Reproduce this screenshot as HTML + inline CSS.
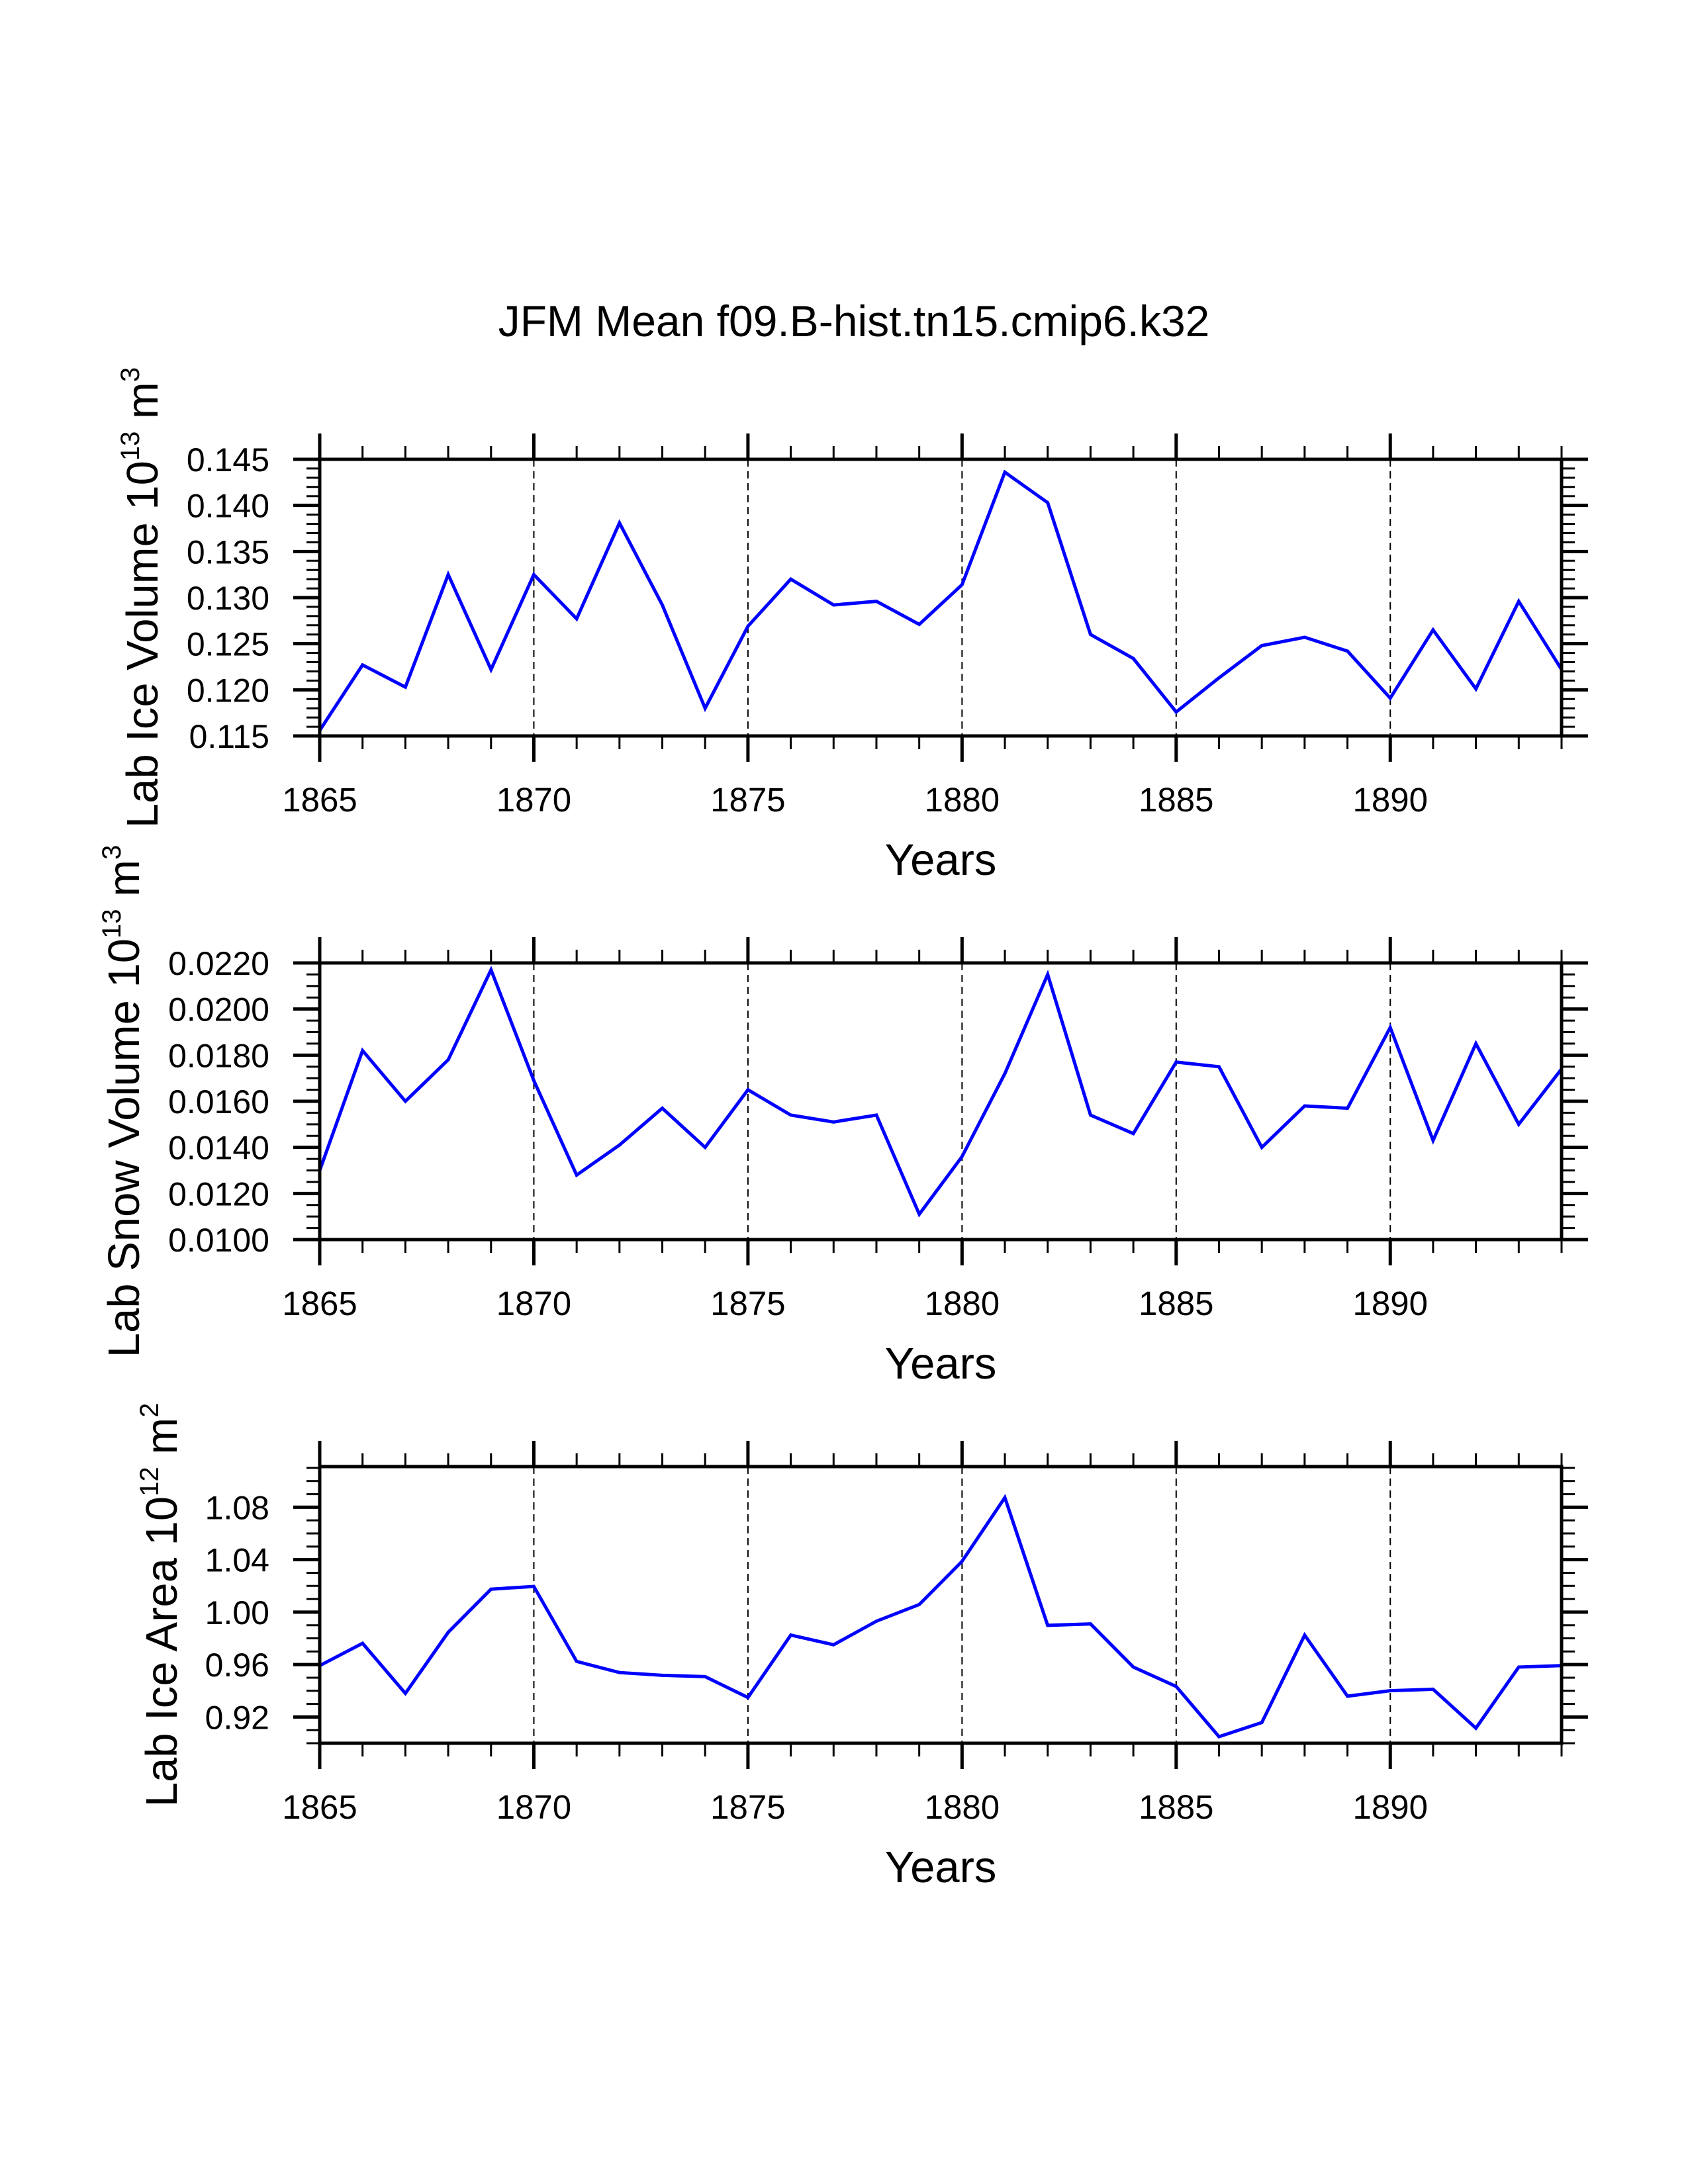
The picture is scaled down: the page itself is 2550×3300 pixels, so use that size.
<!DOCTYPE html>
<html><head><meta charset="utf-8"><title>JFM Mean f09.B-hist.tn15.cmip6.k32</title>
<style>html,body{margin:0;padding:0;background:#fff}svg{display:block}text{font-family:"Liberation Sans",sans-serif;fill:#000}</style>
</head><body>
<svg id="chart" width="2550" height="3300" viewBox="0 0 2550 3300" xmlns="http://www.w3.org/2000/svg">
<text x="1290" y="508" font-size="66" text-anchor="middle">JFM Mean f09.B-hist.tn15.cmip6.k32</text>
</svg>
<script>
const years = [1865,1866,1867,1868,1869,1870,1871,1872,1873,1874,1875,1876,1877,1878,1879,1880,1881,1882,1883,1884,1885,1886,1887,1888,1889,1890,1891,1892,1893,1894];
const iceVolume = [0.1156,0.1227,0.1203,0.1325,0.1222,0.1325,0.1277,0.1381,0.1292,0.1180,0.1269,0.1320,0.1292,0.1296,0.1271,0.1314,0.1436,0.1403,0.1260,0.1234,0.1176,0.1213,0.1248,0.1257,0.1242,0.1191,0.1265,0.1201,0.1296,0.1222];
const snowVolume = [0.0130,0.0182,0.0160,0.0178,0.0217,0.0169,0.0128,0.0141,0.0157,0.0140,0.0165,0.0154,0.0151,0.0154,0.0111,0.0136,0.0172,0.0215,0.0154,0.0146,0.0177,0.0175,0.0140,0.0158,0.0157,0.0192,0.0143,0.0185,0.0150,0.0174];
const iceArea = [0.9592,0.9762,0.938,0.9846,1.0175,1.0196,0.9624,0.9539,0.9518,0.9508,0.9349,0.9825,0.9751,0.9931,1.0058,1.0387,1.0874,0.9899,0.991,0.9581,0.9433,0.905,0.9158,0.9825,0.9359,0.9401,0.9412,0.9115,0.9581,0.9592];
const xTickLabels = ["1865","1870","1875","1880","1885","1890"];
const iceVolumeTicks = ["0.115","0.120","0.125","0.130","0.135","0.140","0.145"];
const snowVolumeTicks = ["0.0100","0.0120","0.0140","0.0160","0.0180","0.0200","0.0220"];
const iceAreaTicks = ["0.92","0.96","1.00","1.04","1.08"];

const NS = "http://www.w3.org/2000/svg";
const svg = document.getElementById("chart");
const L = 483, R = 2359, H = 418;
const xMin = 1865, xMax = 1894;
function xs(v){ return L + (v - xMin) / (xMax - xMin) * (R - L); }
function mk(tag, attrs, parent){
  const e = document.createElementNS(NS, tag);
  for (const k in attrs) e.setAttribute(k, attrs[k]);
  (parent || svg).appendChild(e);
  return e;
}

const panels = [
  {top:694, yMin:0.115, yMax:0.145, minor:0.001, ticks:iceVolumeTicks, data:iceVolume, name:"ice-volume", tx:238, title:"Lab Ice Volume 10", sup1:"13", unit:" m", sup2:"3"},
  {top:1455, yMin:0.010, yMax:0.022, minor:0.0005, ticks:snowVolumeTicks, data:snowVolume, name:"snow-volume", tx:210, title:"Lab Snow Volume 10", sup1:"13", unit:" m", sup2:"3"},
  {top:2216, yMin:0.90, yMax:1.111, minor:0.01, ticks:iceAreaTicks, data:iceArea, name:"ice-area", tx:267, title:"Lab Ice Area 10", sup1:"12", unit:" m", sup2:"2"}
];

panels.forEach(function(p){
  const T = p.top, B = p.top + H;
  function ys(v){ return B - (v - p.yMin) / (p.yMax - p.yMin) * H; }
  const g = mk("g", {});
  
  

  xTickLabels.forEach(function(lab){
    const x = xs(+lab);
    if (x <= L + 1) return;
    const gl = mk("line", {x1:x, x2:x, y1:T, y2:B, stroke:"#000", "stroke-width":2, "stroke-dasharray":"11 7"}, g);
    
    
  });

  let d = "";
  years.forEach(function(yr, i){ d += (i ? "L" : "M") + xs(yr).toFixed(1) + " " + ys(p.data[i]).toFixed(1); });
  const path = mk("path", {d:d, fill:"none", stroke:"#0000ff", "stroke-width":5, "stroke-linejoin":"miter"}, g);
  
  

  const fr = mk("rect", {x:L, y:T, width:R-L, height:H, fill:"none", stroke:"#000", "stroke-width":5}, g);
  
  

  for (let yr = xMin; yr <= xMax; yr++){
    const x = xs(yr);
    const major = (yr - xMin) % 5 === 0;
    const len = major ? 39 : 20, w = major ? 5 : 3;
    const t1 = mk("line", {x1:x, x2:x, y1:T, y2:T - len, stroke:"#000", "stroke-width":w}, g);
    
    
    const t2 = mk("line", {x1:x, x2:x, y1:B, y2:B + len, stroke:"#000", "stroke-width":w}, g);
    
    
  }
  xTickLabels.forEach(function(lab){
    const tl = mk("text", {x:xs(+lab), y:B + 114, "font-size":51, "text-anchor":"middle"}, g);
    tl.textContent = lab;
    
    
  });
  const xt = mk("text", {x:(L+R)/2, y:B + 210, "font-size":67, "text-anchor":"middle"}, g);
  xt.textContent = "Years";
  
  

  const nMin = Math.round((p.yMax - p.yMin) / p.minor);
  for (let k = 0; k <= nMin; k++){
    const v = p.yMin + k * p.minor;
    const y = ys(v);
    const m1 = mk("line", {x1:L, x2:L - 20, y1:y, y2:y, stroke:"#000", "stroke-width":3}, g);
    
    
    const m2 = mk("line", {x1:R, x2:R + 20, y1:y, y2:y, stroke:"#000", "stroke-width":3}, g);
    
    
  }
  p.ticks.forEach(function(lab){
    const y = ys(parseFloat(lab));
    const a = mk("line", {x1:L, x2:L - 40, y1:y, y2:y, stroke:"#000", "stroke-width":5}, g);
    
    
    const b = mk("line", {x1:R, x2:R + 40, y1:y, y2:y, stroke:"#000", "stroke-width":5}, g);
    
    
    const t = mk("text", {x:407, y:y + 18, "font-size":50, "text-anchor":"end"}, g);
    t.textContent = lab;
    
    
  });

  const cy = T + H / 2;
  const yt = mk("text", {x:0, y:0, "font-size":67, "text-anchor":"middle", transform:"translate(" + p.tx + "," + cy + ") rotate(-90)"}, g);
  
  
  const s0 = mk("tspan", {}, yt); s0.textContent = p.title;
  const s1 = mk("tspan", {dy:-28, "font-size":40}, yt); s1.textContent = p.sup1;
  const s2 = mk("tspan", {dy:28}, yt); s2.textContent = p.unit;
  const s3 = mk("tspan", {dy:-28, "font-size":40}, yt); s3.textContent = p.sup2;
});
</script>
</body></html>
